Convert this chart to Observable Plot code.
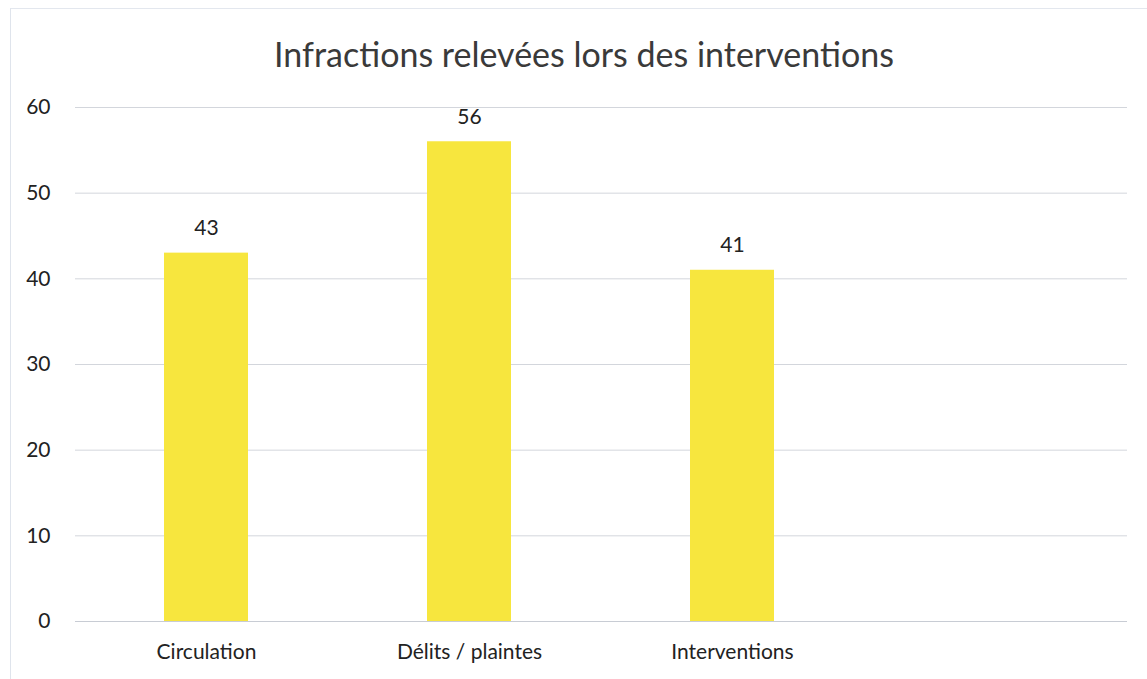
<!DOCTYPE html>
<html>
<head>
<meta charset="utf-8">
<script src="https://cdn.jsdelivr.net/npm/d3@7"></script>
<script src="https://cdn.jsdelivr.net/npm/@observablehq/plot@0.6"></script>
<style>
  html, body { margin: 0; padding: 0; background: #fff; }
  #wrap { position: relative; width: 1147px; height: 679px; overflow: hidden; font-family: Lato, "Open Sans", sans-serif; }
  #frame { position: absolute; left: 10px; top: 8px; width: 1200px; height: 700px; border-top: 1px solid #e3e7ee; border-left: 1px solid #dfe4ec; }
  #title { position: absolute; left: 0; top: 33px; width: 1168px; text-align: center; font-size: 34px; color: #3a3a3a; line-height: 42px; }
  #chart { position: absolute; left: 0; top: 90px; }
</style>
</head>
<body>
<div id="wrap">
  <div id="frame"></div>
  <div id="title">Infractions relevées lors des interventions</div>
  <div id="chart"></div>
</div>
<script>
const categories = ["Circulation", "Délits / plaintes", "Interventions", ""];
const values = [43, 56, 41, null];
const yTicks = [0, 10, 20, 30, 40, 50, 60];

const data = categories.map((c, i) => ({category: c, value: values[i]}));
const bars = data.filter(d => d.value != null);

const plot = Plot.plot({
  width: 1147,
  height: 589,
  marginTop: 17,
  marginBottom: 58,
  marginLeft: 75,
  marginRight: 20,
  style: {fontFamily: "Lato, 'Open Sans', sans-serif", fontSize: "21px", color: "#222", background: "transparent"},
  x: {domain: categories, paddingInner: 0.68, paddingOuter: 0.34, align: 0.5, label: null},
  y: {domain: [0, 60], label: null},
  marks: [
    Plot.gridY(yTicks.filter(t => t > 0), {stroke: "#d3d6dc", strokeOpacity: 1, strokeWidth: 1}),
    Plot.ruleY([0], {stroke: "#c8ccd4", strokeWidth: 1}),
    Plot.barY(bars, {x: "category", y: "value", fill: "#f7e63e"}),
    Plot.text(bars, {x: "category", y: "value", text: d => String(d.value), dy: -25, fontSize: 21, fill: "#222"}),
    Plot.axisX({tickSize: 0, tickPadding: 23, fontSize: 21, tickFormat: d => d}),
    Plot.axisY({ticks: yTicks, tickSize: 0, tickPadding: 25, fontSize: 21})
  ]
});
document.getElementById("chart").appendChild(plot);
</script>
</body>
</html>
